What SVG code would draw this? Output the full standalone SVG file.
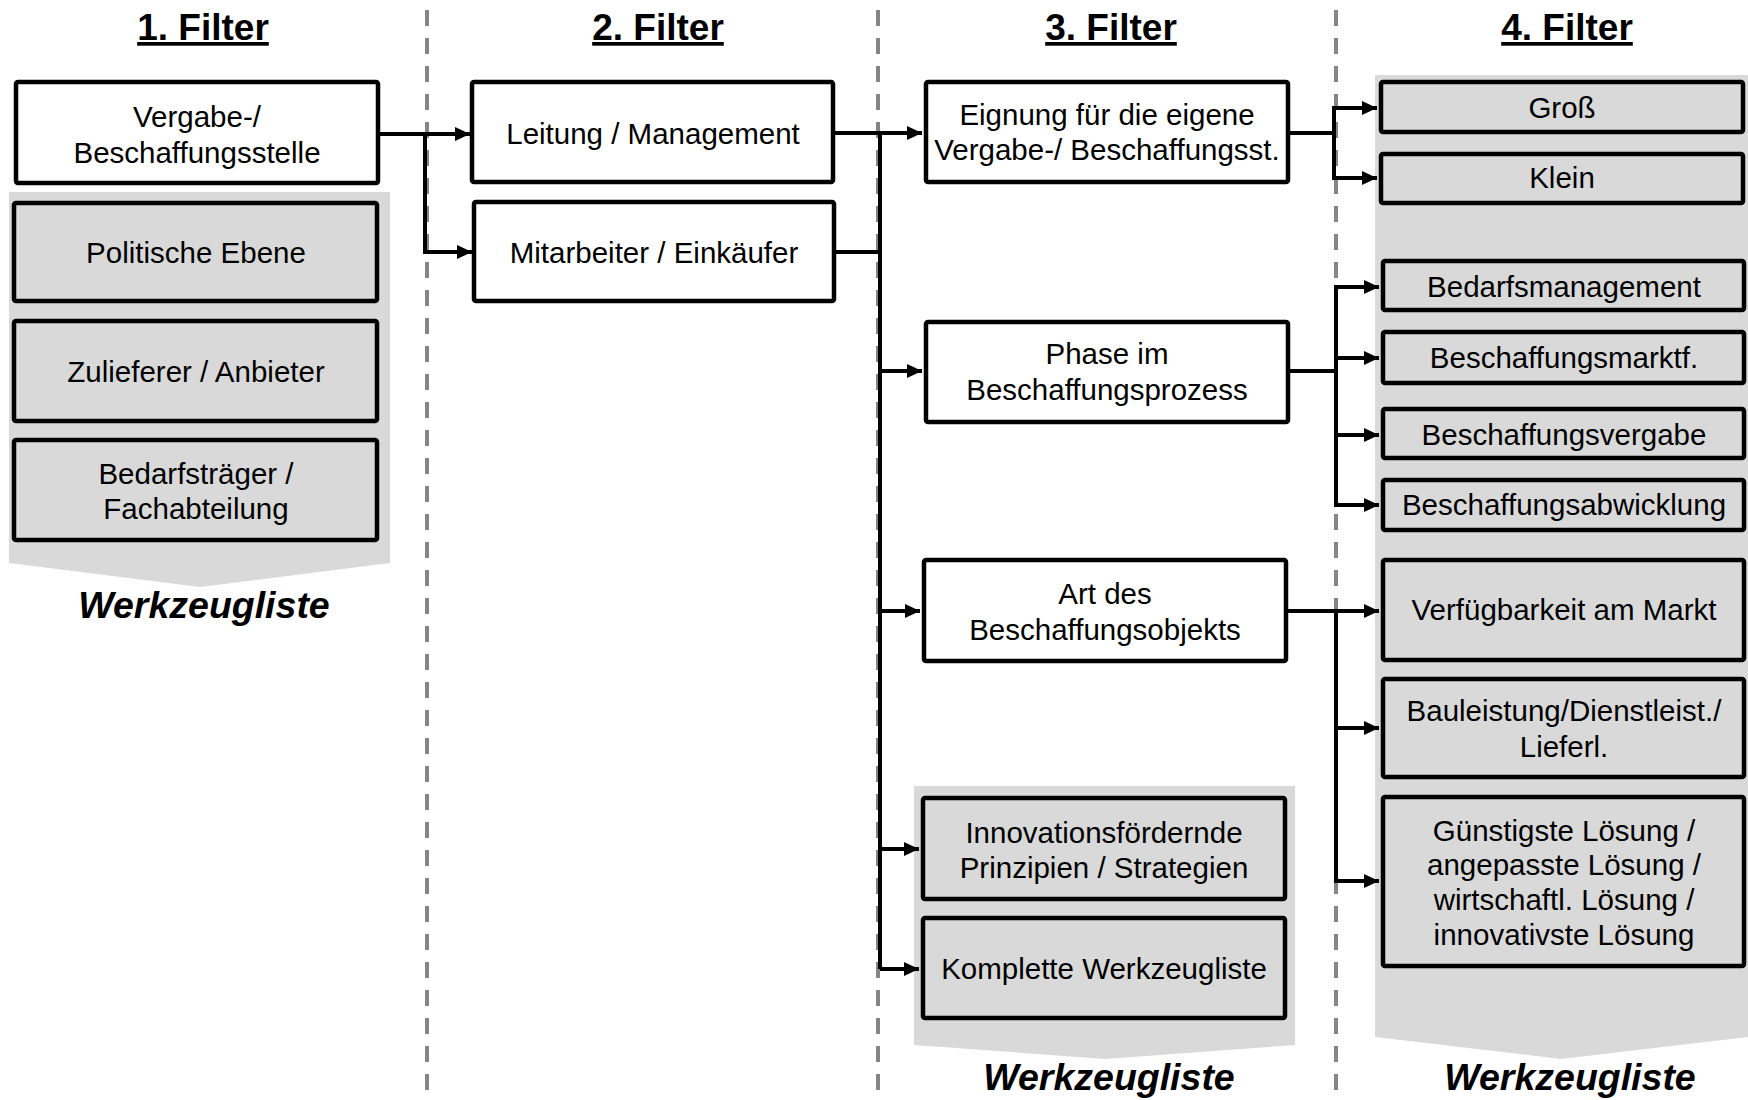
<svg xmlns="http://www.w3.org/2000/svg" width="1748" height="1100" viewBox="0 0 1748 1100">
<style>
.bg{fill:#ffffff}
.dash{stroke:#858585;stroke-width:4;stroke-dasharray:16 12;fill:none}
.panel{fill:#d9d9d9;stroke:none}
.box{fill:#ffffff;stroke:#000;stroke-width:4.5}
.gbox{fill:#d9d9d9;stroke:#000;stroke-width:4.5}
.t{font-family:"Liberation Sans",Arial,sans-serif;font-size:29.5px;fill:#000;text-anchor:middle}
.h{font-family:"Liberation Sans",Arial,sans-serif;font-size:37px;font-weight:bold;fill:#000;text-anchor:middle;text-decoration:underline}
.w{font-family:"Liberation Sans",Arial,sans-serif;font-size:37.5px;font-weight:bold;font-style:italic;fill:#000;text-anchor:middle}
.c{stroke:#000;stroke-width:4;fill:none}
.a{stroke:#000;stroke-width:4;fill:none;marker-end:url(#ah)}
</style>
<defs>
<marker id="ah" markerUnits="userSpaceOnUse" markerWidth="16" markerHeight="14" refX="15" refY="7" orient="auto">
<path d="M0,0 L15,7 L0,14 z" fill="#000"/>
</marker>
</defs>
<rect class="bg" x="0" y="0" width="1748" height="1100"/>

<g id="dividers">
<line class="dash" x1="427" y1="10" x2="427" y2="1095"/>
<line class="dash" x1="878" y1="10" x2="878" y2="1095"/>
<line class="dash" x1="1336" y1="10" x2="1336" y2="1095"/>
</g>

<g id="headers">
<text class="h" x="203" y="40">1. Filter</text>
<text class="h" x="658" y="40">2. Filter</text>
<text class="h" x="1111" y="40">3. Filter</text>
<text class="h" x="1567" y="40">4. Filter</text>
</g>

<g id="panels">
<polygon class="panel" points="9,192 390,192 390,563 200,587 9,563"/>
<polygon class="panel" points="914,786 1295,786 1295,1045 1105,1059 914,1045"/>
<polygon class="panel" points="1375,75 1748,75 1748,1037 1561,1059 1375,1037"/>
</g>

<g id="connectors">
<polyline class="a" points="380,134 470,134"/>
<polyline class="a" points="425,134 425,252 472,252"/>
<polyline class="a" points="835,133 922,133"/>
<polyline class="c" points="836,252 880,252"/>
<polyline class="c" points="880,133 880,969"/>
<polyline class="a" points="880,371 922,371"/>
<polyline class="a" points="880,611 920,611"/>
<polyline class="a" points="880,849 919,849"/>
<polyline class="a" points="880,969 919,969"/>
<polyline class="c" points="1290,133 1334,133"/>
<polyline class="a" points="1334,108 1377,108"/>
<polyline class="c" points="1334,106 1334,180"/>
<polyline class="a" points="1334,178 1377,178"/>
<polyline class="c" points="1290,371 1336,371"/>
<polyline class="c" points="1336,285 1336,507"/>
<polyline class="a" points="1336,287 1379,287"/>
<polyline class="a" points="1336,358 1379,358"/>
<polyline class="a" points="1336,435 1379,435"/>
<polyline class="a" points="1336,505 1379,505"/>
<polyline class="a" points="1288,611 1379,611"/>
<polyline class="c" points="1336,611 1336,883"/>
<polyline class="a" points="1336,728 1379,728"/>
<polyline class="a" points="1336,881 1379,881"/>
</g>

<g id="n-vergabe"><rect class="box" x="16" y="82" width="362" height="101" rx="2"/><text class="t" x="197" y="127">Vergabe-/</text><text class="t" x="197" y="163">Beschaffungsstelle</text></g>
<g id="n-politisch"><rect class="gbox" x="14" y="203" width="363" height="98" rx="2"/><text class="t" x="196" y="263">Politische Ebene</text></g>
<g id="n-zulieferer"><rect class="gbox" x="14" y="321" width="363" height="100" rx="2"/><text class="t" x="196" y="382">Zulieferer / Anbieter</text></g>
<g id="n-bedarfstraeger"><rect class="gbox" x="14" y="440" width="363" height="100" rx="2"/><text class="t" x="196" y="484">Bedarfsträger /</text><text class="t" x="196" y="519">Fachabteilung</text></g>
<text class="w" x="204" y="618">Werkzeugliste</text>

<g id="n-leitung"><rect class="box" x="472" y="82" width="361" height="100" rx="2"/><text class="t" x="653" y="144">Leitung / Management</text></g>
<g id="n-mitarbeiter"><rect class="box" x="474" y="202" width="360" height="99" rx="2"/><text class="t" x="654" y="263">Mitarbeiter / Einkäufer</text></g>

<g id="n-eignung"><rect class="box" x="926" y="82" width="362" height="100" rx="2"/><text class="t" x="1107" y="125">Eignung für die eigene</text><text class="t" x="1107" y="160">Vergabe-/ Beschaffungsst.</text></g>
<g id="n-phase"><rect class="box" x="926" y="322" width="362" height="100" rx="2"/><text class="t" x="1107" y="364">Phase im</text><text class="t" x="1107" y="400">Beschaffungsprozess</text></g>
<g id="n-art"><rect class="box" x="924" y="560" width="362" height="101" rx="2"/><text class="t" x="1105" y="604">Art des</text><text class="t" x="1105" y="640">Beschaffungsobjekts</text></g>
<g id="n-innov"><rect class="gbox" x="923" y="798" width="362" height="101" rx="2"/><text class="t" x="1104" y="843">Innovationsfördernde</text><text class="t" x="1104" y="878">Prinzipien / Strategien</text></g>
<g id="n-komplette"><rect class="gbox" x="923" y="918" width="362" height="100" rx="2"/><text class="t" x="1104" y="979">Komplette Werkzeugliste</text></g>
<text class="w" x="1109" y="1090">Werkzeugliste</text>

<g id="n-gross"><rect class="gbox" x="1381" y="82" width="362" height="50" rx="2"/><text class="t" x="1562" y="118">Groß</text></g>
<g id="n-klein"><rect class="gbox" x="1381" y="154" width="362" height="49" rx="2"/><text class="t" x="1562" y="188">Klein</text></g>
<g id="n-bedarfsmgmt"><rect class="gbox" x="1383" y="261" width="361" height="49" rx="2"/><text class="t" x="1564" y="297">Bedarfsmanagement</text></g>
<g id="n-marktf"><rect class="gbox" x="1383" y="332" width="361" height="51" rx="2"/><text class="t" x="1564" y="368">Beschaffungsmarktf.</text></g>
<g id="n-vergabe4"><rect class="gbox" x="1383" y="409" width="361" height="49" rx="2"/><text class="t" x="1564" y="445">Beschaffungsvergabe</text></g>
<g id="n-abwicklung"><rect class="gbox" x="1383" y="480" width="361" height="50" rx="2"/><text class="t" x="1564" y="515">Beschaffungsabwicklung</text></g>
<g id="n-verfuegbarkeit"><rect class="gbox" x="1383" y="560" width="361" height="100" rx="2"/><text class="t" x="1564" y="620">Verfügbarkeit am Markt</text></g>
<g id="n-bauleistung"><rect class="gbox" x="1383" y="679" width="361" height="98" rx="2"/><text class="t" x="1564" y="721">Bauleistung/Dienstleist./</text><text class="t" x="1564" y="757">Lieferl.</text></g>
<g id="n-guenstigste"><rect class="gbox" x="1383" y="797" width="361" height="169" rx="2"/><text class="t" x="1564" y="841">Günstigste Lösung /</text><text class="t" x="1564" y="875">angepasste Lösung /</text><text class="t" x="1564" y="910">wirtschaftl. Lösung /</text><text class="t" x="1564" y="945">innovativste Lösung</text></g>
<text class="w" x="1570" y="1090">Werkzeugliste</text>
</svg>
